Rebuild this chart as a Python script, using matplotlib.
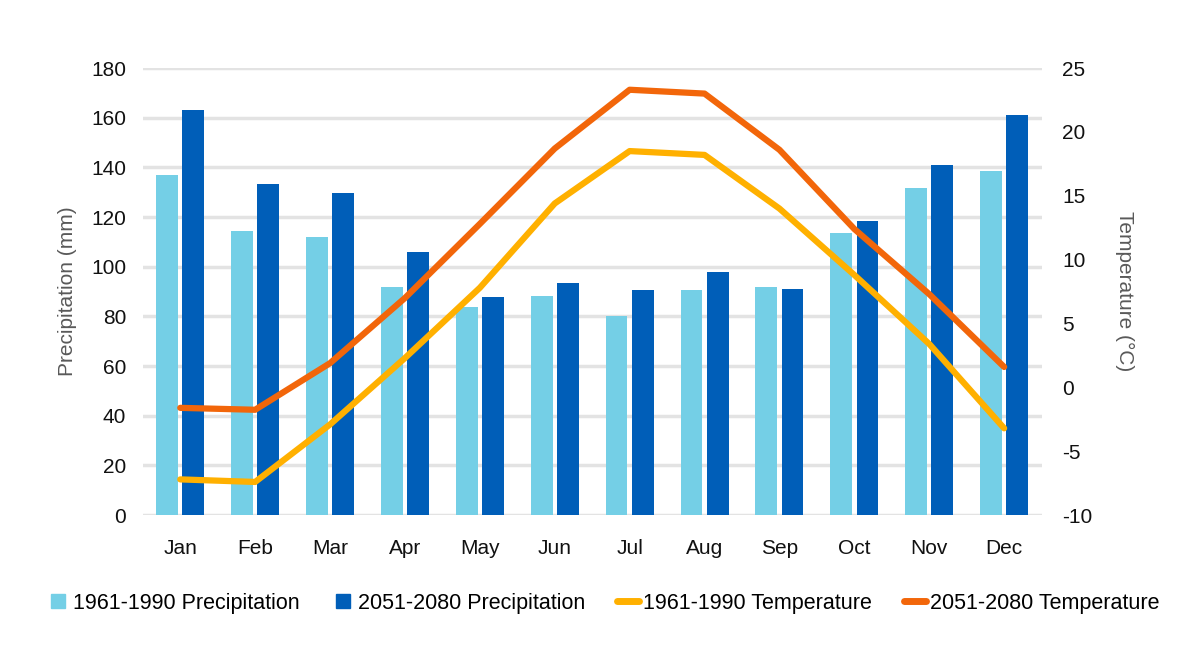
import matplotlib
matplotlib.use("Agg")
import matplotlib.pyplot as plt
import numpy as np
from matplotlib.lines import Line2D

plt.rcParams['font.family'] = ['Liberation Sans', 'DejaVu Sans']
plt.rcParams['axes.unicode_minus'] = False

months = ["Jan", "Feb", "Mar", "Apr", "May", "Jun", "Jul", "Aug", "Sep", "Oct", "Nov", "Dec"]
precip_1961 = [137, 114.5, 112, 92, 84, 88.3, 80, 90.6, 92, 113.6, 131.7, 138.7]
precip_2051 = [163, 133.5, 129.7, 106, 88, 93.6, 90.6, 97.8, 91, 118.5, 141, 161.2]
temp_1961 = [-7.2, -7.4, -2.9, 2.3, 7.8, 14.4, 18.5, 18.2, 14.0, 8.8, 3.4, -3.2]
temp_2051 = [-1.6, -1.75, 1.9, 7.0, 12.8, 18.7, 23.3, 23.0, 18.6, 12.4, 7.3, 1.6]

c_light = "#74CFE6"
c_dark = "#005EB8"
c_yellow = "#FFB000"
c_orange = "#F2660A"
fs = 15

fig = plt.figure(figsize=(12, 6.48), dpi=100)
ax = fig.add_axes([0.119, 0.205, 0.749, 0.690])
x = np.arange(len(months))
w = 0.29
off = 0.175
ax.bar(x - off, precip_1961, width=w, color=c_light, zorder=2)
ax.bar(x + off, precip_2051, width=w, color=c_dark, zorder=2)
ax.set_xlim(-0.5, 11.5)
ax.set_ylim(0, 180)
ax.set_yticks(np.arange(0, 181, 20))
ax.set_xticks(x)
ax.set_xticklabels(months)
ax.grid(axis='y', color="#E3E3E3", linewidth=2.5, zorder=0)
ax.set_axisbelow(True)
for s in ax.spines.values():
    s.set_visible(False)
ax.tick_params(axis='both', length=0, labelsize=fs, colors="#111111")
ax.tick_params(axis='x', pad=17)
ax.tick_params(axis='y', pad=12)
ax.set_ylabel("Precipitation (mm)", fontsize=fs, color="#595959", labelpad=10)

ax2 = ax.twinx()
ax2.plot(x, temp_1961, color=c_yellow, linewidth=4.5, solid_capstyle='round', solid_joinstyle='round', zorder=3)
ax2.plot(x, temp_2051, color=c_orange, linewidth=4.5, solid_capstyle='round', solid_joinstyle='round', zorder=3)
ax2.set_ylim(-10, 25)
ax2.set_yticks(np.arange(-10, 26, 5))
for s in ax2.spines.values():
    s.set_visible(False)
ax2.tick_params(axis='y', length=0, labelsize=fs, colors="#111111", pad=15)
ax2.set_ylabel("Temperature (°C)", fontsize=fs, color="#595959", rotation=270, labelpad=30)

handles = [
    Line2D([0], [0], marker='s', linestyle='None', markersize=10, color=c_light),
    Line2D([0], [0], marker='s', linestyle='None', markersize=10, color=c_dark),
    Line2D([0], [0], color=c_yellow, linewidth=5, solid_capstyle='round'),
    Line2D([0], [0], color=c_orange, linewidth=5, solid_capstyle='round'),
]
labels = ["1961-1990 Precipitation", "2051-2080 Precipitation", "1961-1990 Temperature", "2051-2080 Temperature"]
fig.legend(handles, labels, loc='center', bbox_to_anchor=(0.503, 0.069), ncol=4, frameon=False,
           fontsize=15.5, handlelength=1.0, handletextpad=0.2, columnspacing=1.5)

fig.savefig("out.png", dpi=100, facecolor="white")
